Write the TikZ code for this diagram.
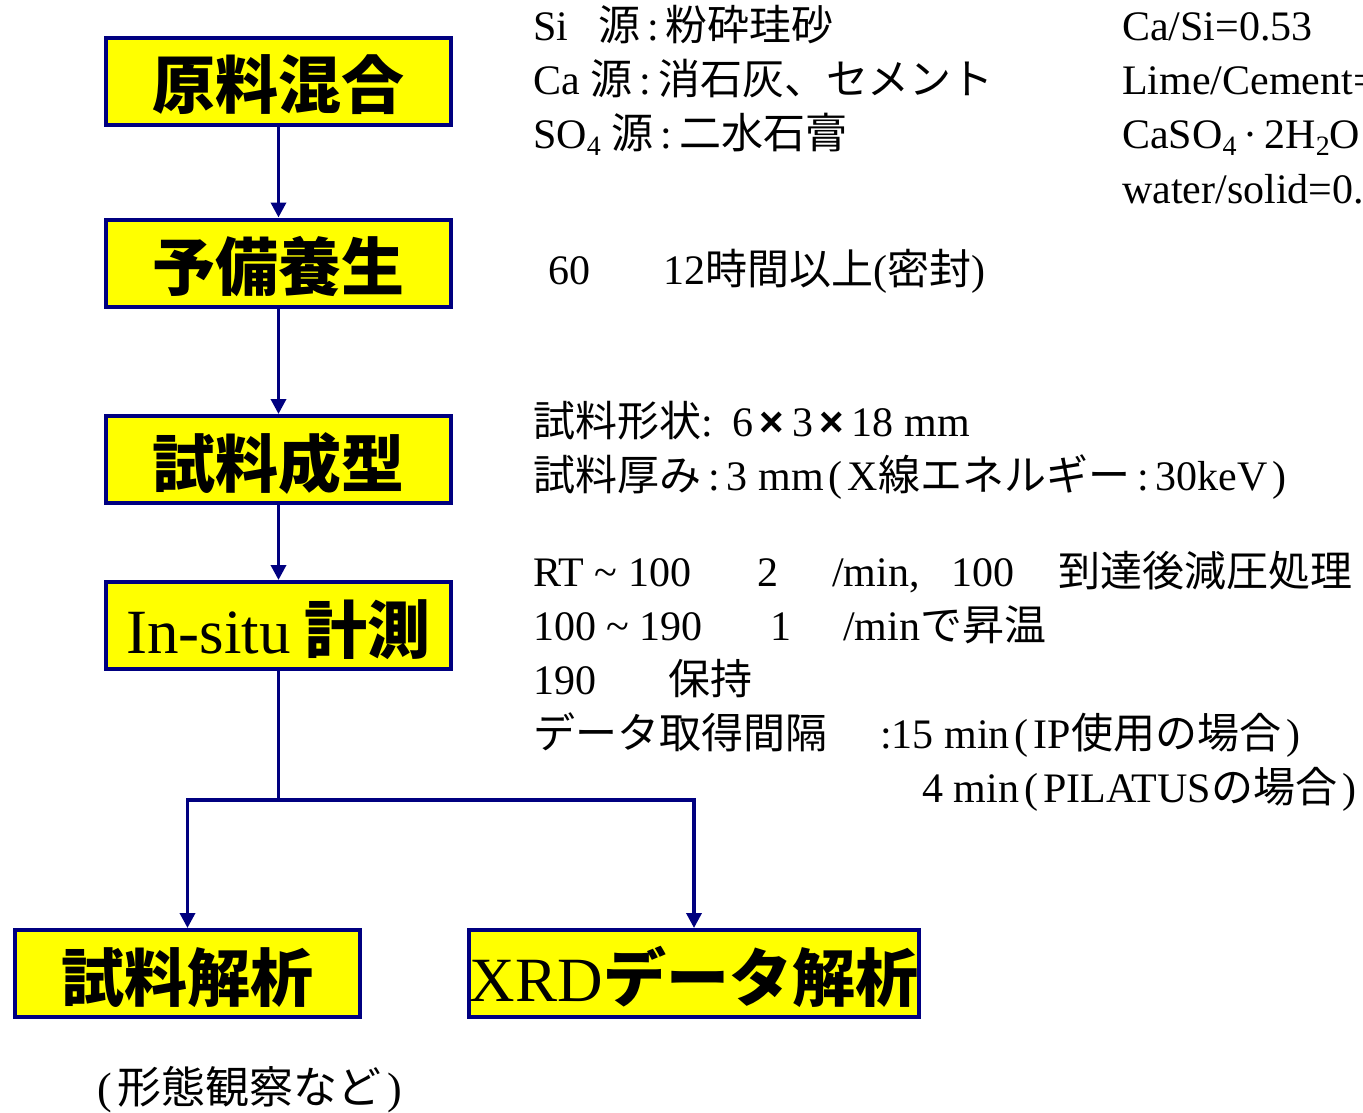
\documentclass[tikz,border=0pt]{standalone}
\usepackage{fontspec}
\setmainfont{Liberation Serif}
\newfontfamily\jp{Noto Sans CJK JP}
\newfontfamily\sansx{Liberation Sans}
\usetikzlibrary{arrows.meta}
\definecolor{navyline}{RGB}{0,0,128}
\definecolor{boxyellow}{RGB}{255,255,0}
\newcommand\jtxt[1]{{\jp #1}}
\newcommand\subsc[1]{\raisebox{-0.35ex}{\fontsize{28}{28}\selectfont #1}}
\newcommand\lpar{\hspace{5pt}(\hspace{5pt}}
\newcommand\rpar{\hspace{5pt})}
\newcommand\timesx{\hspace{6pt}{\sansx\bfseries ×}\hspace{8pt}}
\tikzset{
  procbox/.style={draw=navyline, line width=4pt, fill=boxyellow, minimum width=345pt,
    minimum height=87pt, inner sep=0pt, text height=55pt, text depth=0pt,
    font=\fontsize{63}{63}\selectfont\jp\bfseries},
  flowline/.style={draw=navyline, line width=3.5pt},
  flow/.style={flowline, -{Triangle[length=15pt,width=15pt]}},
  note/.style={anchor=base west, inner sep=0pt, font=\fontsize{42}{50}\selectfont},
  bignote/.style={anchor=base west, inner sep=0pt, font=\fontsize{44}{50}\selectfont}
}
\begin{document}
\begin{tikzpicture}[x=1pt,y=-1pt]
\useasboundingbox (0,0) rectangle (1363,1113);
\clip (0,0) rectangle (1363,1113);
% boxes
\node[procbox] (b1) at (278.5,81.5) {原料混合};
\node[procbox] (b2) at (278.5,263) {予備養生};
\node[procbox] (b3) at (278.5,459.5) {試料成型};
\node[procbox] (b4) at (278.5,625.5) {{\rmfamily\mdseries In-situ} 計測};
\node[procbox] (b5) at (187.5,973.5) {試料解析};
\node[procbox, minimum width=450pt] (b6) at (694,973.5) {{\rmfamily\mdseries XRD}データ解析};
\coordinate (j) at (278.5,800);
% connectors
\draw[flow] (b1.south) -- (b2.north);
\draw[flow] (b2.south) -- (b3.north);
\draw[flow] (b3.south) -- (b4.north);
\draw[flowline] (b4.south) -- (j);
\draw[flow] (j) -| (b5.north);
\draw[flow] (j) -| (b6.north);
% notes: raw materials
\node[note] (t1a) at (533,41) {Si};
\node[note] (t1b) at (598,41) {\jtxt{源}\,:\,\jtxt{粉砕珪砂}};
\node[note] (t2) at (533,95) {Ca \jtxt{源}\,:\,\jtxt{消石灰、セメント}};
\node[note] (t3) at (533,149) {SO\subsc{4} \jtxt{源}\,:\,\jtxt{二水石膏}};
\node[note] (r1) at (1122,41) {Ca/Si=0.53};
\node[note] (r2) at (1122,95) {Lime/Cement=};
\node[note] (r3) at (1122,149) {CaSO\subsc{4}\,·\,2H\subsc{2}O};
\node[note] (r4) at (1122,203) {water/solid=0.};
% curing
\node[note] (c1) at (548,284) {60};
\node[note] (c2) at (663,284) {12\jtxt{時間以上}(\jtxt{密封})};
% shaping
\node[note] (s1) at (533,436) {\jtxt{試料形状}:\hspace{20pt}6\timesx 3\timesx 18 mm};
\node[note] (s2) at (533,490) {\jtxt{試料厚み}\,:\,3 mm\lpar X\jtxt{線エネルギー}\,:\,30keV\rpar};
% measurement
\node[note] (m1a) at (533,586) {RT \textasciitilde{} 100};
\node[note] (m1b) at (757,586) {2};
\node[note] (m1c) at (832,586) {/min,};
\node[note] (m1d) at (951,586) {100};
\node[note] (m1e) at (1058,586) {\jtxt{到達後減圧処理}};
\node[note] (m2a) at (533,640) {100 \textasciitilde{} 190};
\node[note] (m2b) at (770,640) {1};
\node[note] (m2c) at (843,640) {/min\jtxt{で昇温}};
\node[note] (m3a) at (533,694) {190};
\node[note] (m3b) at (668,694) {\jtxt{保持}};
\node[note] (m4a) at (533,748) {\jtxt{データ取得間隔}};
\node[note] (m4b) at (880,748) {:15 min\lpar IP\jtxt{使用の場合}\rpar};
\node[note] (m5) at (922,802) {4 min\lpar PILATUS\jtxt{の場合}\rpar};
% analysis note
\node[bignote] (a1) at (97,1103) {(\hspace{6pt}\jtxt{形態観察など}\hspace{6pt})};
\end{tikzpicture}
\end{document}
